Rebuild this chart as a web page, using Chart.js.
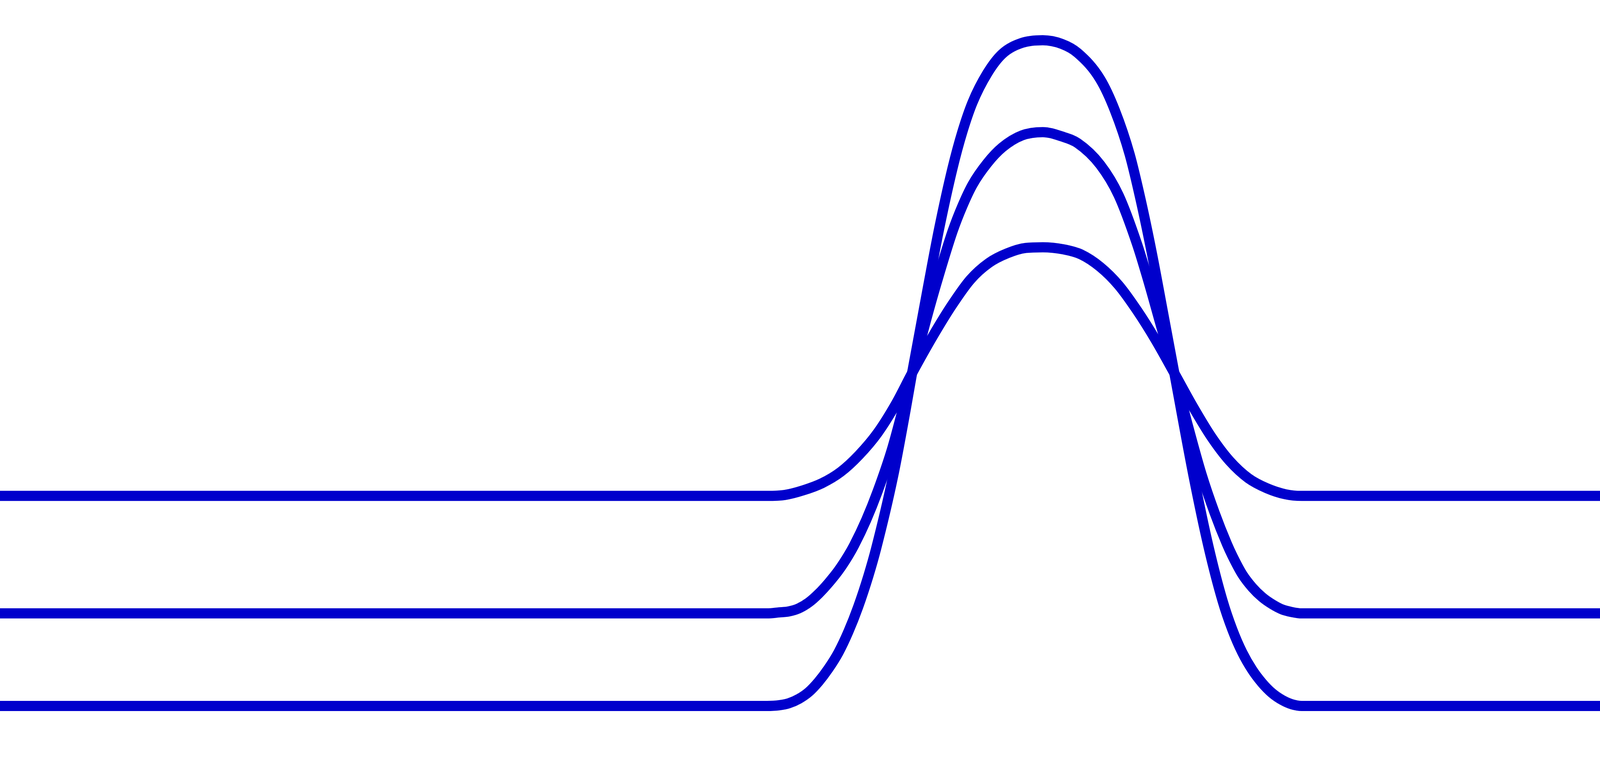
<!DOCTYPE html>
<html>
<head>
<meta charset="utf-8">
<title>bumps</title>
<script src="https://cdn.jsdelivr.net/npm/chart.js@4.4.1/dist/chart.umd.min.js"></script>
<style>
  html, body { margin: 0; padding: 0; background: #fff; overflow: hidden; }
  #wrap { width: 100vw; height: 100vh; }
</style>
</head>
<body>
<div id="wrap"><canvas id="bumps"></canvas></div>
<script>
// values (x along the axis, y around the shared centre line)
const xTall = [0, 25.77, 26.17, 26.50, 26.83, 27.17, 27.50, 27.83, 28.17, 28.50, 28.83, 29.17, 29.43, 30.00, 30.42,
  30.64, 31.18, 31.55, 32.00, 32.33, 32.67, 33.17, 33.67, 34.33, 35.03,
  35.67, 36.20, 36.96, 37.45, 37.95, 38.32, 38.70, 39.07, 39.45,
  40.10, 40.60, 41.07, 41.40, 41.73, 42.07, 42.40, 42.73, 43.07, 43.40, 43.73, 53.75];
const yTall = [-1.0, -1.0, -0.998, -0.992, -0.979, -0.958, -0.927, -0.888, -0.839, -0.777, -0.702, -0.610, -0.528, -0.311, -0.112,
  0, 0.261, 0.434, 0.616, 0.725, 0.813, 0.901, 0.959, 0.992, 1.0,
  0.989, 0.962, 0.883, 0.790, 0.657, 0.520, 0.358, 0.182, 0,
  -0.311, -0.522, -0.684, -0.771, -0.839, -0.892, -0.931, -0.961, -0.982, -0.995, -1.0, -1.0];

const xMid = [0, 25.77, 26.17, 26.50, 26.83, 27.17, 27.50, 27.83, 28.17, 28.50, 28.69, 29.10, 29.48, 29.98,
  30.64, 31.10, 31.47, 32.00, 32.33, 32.67, 33.17, 33.67, 34.33, 35.03,
  35.67, 36.20, 36.96, 37.58, 38.20, 38.55, 38.98, 39.45,
  39.90, 40.36, 40.80, 41.22, 41.40, 41.73, 42.07, 42.40, 42.73, 43.07, 43.40, 43.73, 53.75];
const yMid = [-0.722, -0.722, -0.719, -0.716, -0.707, -0.689, -0.663, -0.631, -0.593, -0.548, -0.518, -0.441, -0.356, -0.224,
  0, 0.156, 0.273, 0.426, 0.502, 0.566, 0.631, 0.678, 0.714, 0.724,
  0.711, 0.691, 0.626, 0.534, 0.387, 0.285, 0.149, 0,
  -0.156, -0.303, -0.419, -0.514, -0.549, -0.604, -0.644, -0.673, -0.694, -0.710, -0.718, -0.722, -0.722];

const xLow = [0, 25.77, 26.37, 26.99, 27.61, 28.24, 28.86, 29.48, 30.10,
  30.64, 31.35, 31.97, 32.60, 33.22, 33.84, 34.46, 35.03,
  35.71, 36.33, 36.96, 37.58, 38.20, 38.82, 39.45,
  40.07, 40.69, 41.31, 41.94, 42.56, 43.18, 43.73, 53.75];
const yLow = [-0.369, -0.369, -0.366, -0.352, -0.331, -0.297, -0.246, -0.180, -0.092,
  0, 0.113, 0.203, 0.281, 0.331, 0.360, 0.376, 0.378,
  0.372, 0.356, 0.319, 0.264, 0.188, 0.100, 0,
  -0.100, -0.191, -0.264, -0.316, -0.346, -0.364, -0.369, -0.369];

const xRange = [0, 53.75];
const yRange = [-1.1714, 1.1209];
const lineColor = '#0000cc';

const $ = (id) => document.getElementById(id);
const pts = (xs, ys) => xs.map((x, i) => ({ x, y: ys[i] }));

function series(xs, ys){
  return {
    data: pts(xs, ys),
    borderColor: lineColor,
    borderWidth: 26,
    borderCapStyle: 'butt',
    pointRadius: 0,
    fill: false,
    cubicInterpolationMode: 'monotone',
  };
}

new Chart($('bumps'), {
  type: 'line',
  data: {
    datasets: [series(xLow, yLow), series(xMid, yMid), series(xTall, yTall)]
  },
  options: {
    responsive: true,
    maintainAspectRatio: false,
    animation: false,
    layout: { padding: 0 },
    plugins: { legend: { display: false }, tooltip: { enabled: false } },
    scales: {
      x: { type: 'linear', min: xRange[0], max: xRange[1], display: false },
      y: { type: 'linear', min: yRange[0], max: yRange[1], display: false }
    }
  }
});
</script>
</body>
</html>
